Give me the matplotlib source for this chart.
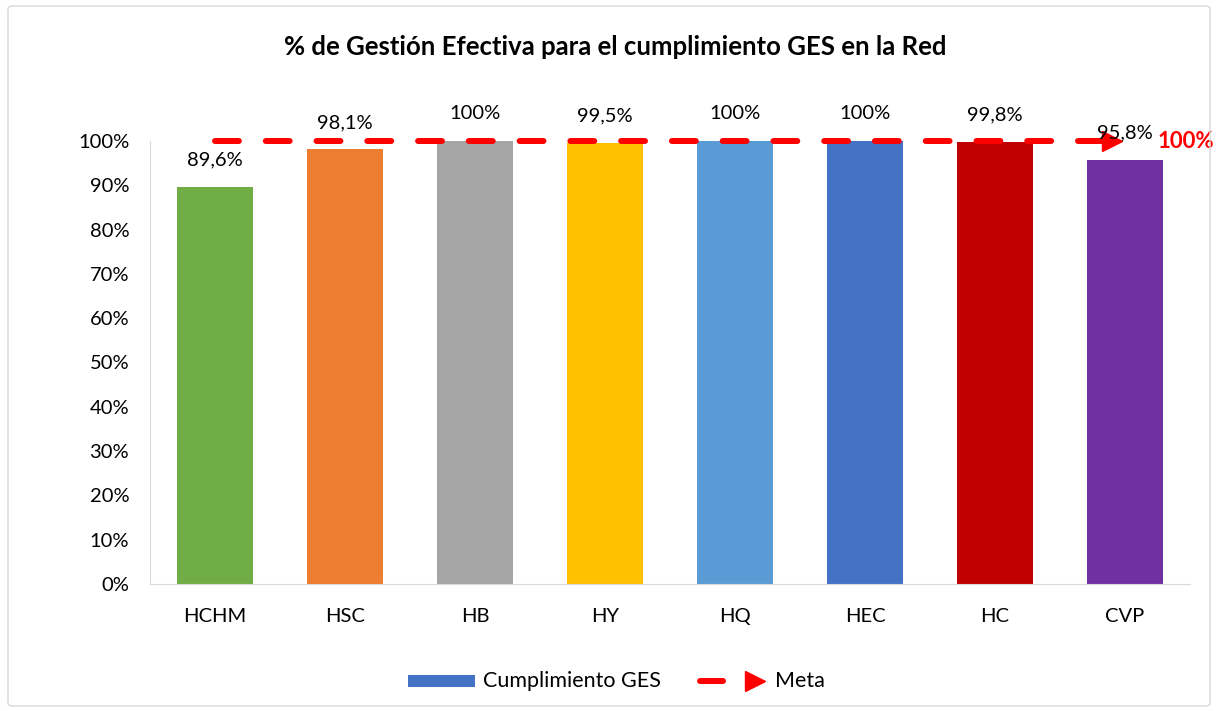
import matplotlib.pyplot as plt
from matplotlib.patches import FancyBboxPatch, Rectangle
from matplotlib.lines import Line2D
import matplotlib.ticker as mtick

plt.rcParams['font.family'] = ['Lato', 'DejaVu Sans']

# datos
categorias = ['HCHM', 'HSC', 'HB', 'HY', 'HQ', 'HEC', 'HC', 'CVP']
cumplimiento = [0.896, 0.981, 1.0, 0.995, 1.0, 1.0, 0.998, 0.958]
etiquetas = ['89,6%', '98,1%', '100%', '99,5%', '100%', '100%', '99,8%', '95,8%']
meta = [1.0] * len(categorias)
colores = ['#70AD47', '#ED7D31', '#A5A5A5', '#FFC000',
           '#5B9BD5', '#4472C4', '#C00000', '#7030A0']

W, H = 1217, 711


def fx(px):
    return px / W


def fy(py):
    return 1 - py / H


fig = plt.figure(figsize=(W / 100, H / 100), dpi=100)
ax = fig.add_axes([fx(150), fy(584), 1040 / W, 443 / H])

# marco exterior
fig.patches.append(FancyBboxPatch((fx(8), fy(706)), 1202 / W, 700 / H,
                                  boxstyle='round,pad=0,rounding_size=0.004',
                                  transform=fig.transFigure, fill=False,
                                  edgecolor='#D9D9D9', linewidth=1))

x = list(range(len(categorias)))
ax.bar(x, cumplimiento, width=0.58, color=colores, zorder=2)

# linea meta
ax.plot(x, meta, color='#FF0000', linewidth=4.3, dashes=(4.0, 4.5),
        dash_capstyle='round', zorder=3, clip_on=False)
ax.plot([x[-1] - 0.1], [meta[-1]], marker='>', color='#FF0000', markersize=15,
        linestyle='none', zorder=4, clip_on=False)
ax.text(x[-1] + 0.25, meta[-1], '100%', color='#FF0000', fontsize=16,
        fontweight='bold', va='center', ha='left')

# etiquetas de datos
for xi, v, t in zip(x, cumplimiento, etiquetas):
    ax.text(xi, v + 0.061, t, ha='center', va='center', fontsize=14.5, zorder=5)

ax.set_xlim(-0.5, len(categorias) - 0.5)
ax.set_ylim(0, 1.0)
ax.yaxis.set_major_locator(mtick.MultipleLocator(0.1))
ax.yaxis.set_major_formatter(mtick.PercentFormatter(1.0, decimals=0))
ax.set_xticks(x)
ax.set_xticklabels(categorias)
ax.tick_params(axis='both', length=0, labelsize=14.5)
ax.tick_params(axis='x', pad=17)
ax.tick_params(axis='y', pad=15)
for s in ['top', 'right']:
    ax.spines[s].set_visible(False)
for s in ['left', 'bottom']:
    ax.spines[s].set_color('#D9D9D9')

fig.text(fx(615), fy(47), '% de Gestión Efectiva para el cumplimiento GES en la Red',
         ha='center', va='center', fontsize=18.5, fontweight='bold')

# leyenda
fig.patches.append(Rectangle((fx(408), fy(687)), 67 / W, 12 / H,
                             transform=fig.transFigure, facecolor='#4472C4'))
fig.text(fx(483), fy(681), 'Cumplimiento GES', ha='left', va='center', fontsize=15.5)
fig.add_artist(Line2D([fx(700), fx(723)], [fy(681), fy(681)], color='#FF0000',
                      linewidth=4.3, solid_capstyle='round',
                      transform=fig.transFigure))
fig.add_artist(Line2D([fx(755)], [fy(681)], marker='>', color='#FF0000',
                      markersize=15, linestyle='none', transform=fig.transFigure))
fig.text(fx(775), fy(681), 'Meta', ha='left', va='center', fontsize=15.5)

fig.savefig('out.png', dpi=100)
